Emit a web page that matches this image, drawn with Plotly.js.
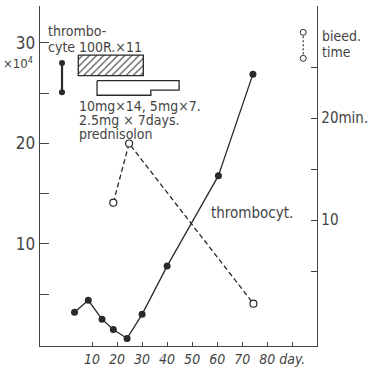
<!DOCTYPE html>
<html>
<head>
<meta charset="utf-8">
<script src="https://cdn.plot.ly/plotly-3.0.1.min.js"></script>
<style>html,body{margin:0;padding:0;background:#fff;}#chart{width:372px;height:370px;}</style>
</head>
<body>
<div id="chart"></div>
<script>
// ---- data ----
const thromboDays = [3, 8.5, 14, 18.5, 24, 30, 40, 60.5, 74.3];
const thromboValues = [3.2, 4.4, 2.5, 1.5, 0.6, 3.0, 7.8, 16.8, 26.9]; // ×10^4
const preTreatDays = [-2, -2];
const preTreatValues = [28.0, 25.1];
const bleedDays = [18.5, 24.8, 74.5];
const bleedMinutes = [11.7, 17.5, 1.8];
const radiationDays = [4.5, 30.5];          // 100R × 11
const prednisoloneDays = [12, 33.5, 44.8];   // 10mg/5mg -> 2.5mg step
const xTickVals = [10, 20, 30, 40, 50, 60, 70, 80, 90];
const xTickText = ['10', '20', '30', '40', '50', '60', '70', '80', 'day.'];
const yTickVals = [5, 10, 15, 20, 25, 30];
const yTickText = ['', '10', '', '20', '', '30'];
const y2TickVals = [5, 10, 15, 20, 25];
const y2TickText = ['', '10', '', '20min.', ''];

// ---- styling / layout ----
const FONT = 'DejaVu Sans Condensed, DejaVu Sans, sans-serif';
const TXT = '#444';
const INK = '#2a2a2a';
const L = 40, R = 316.7, T = 6, B = 346;
const xp = px => (px - L) / (R - L);
const yp = py => (B - py) / (B - T);

// vertical placement of treatment bars (left-axis units)
const radTop = 28.8, radBot = 26.75;
const predTop = 26.25, predBot1 = 24.8, predBot2 = 25.3;

const traces = [
  { // radiation hatched bar
    x: [radiationDays[0], radiationDays[1], radiationDays[1], radiationDays[0], radiationDays[0]],
    y: [radTop, radTop, radBot, radBot, radTop],
    mode: 'lines', fill: 'toself', fillcolor: 'white',
    fillpattern: { shape: '/', fgcolor: '#555', bgcolor: 'white', size: 5, solidity: 0.25 },
    line: { color: INK, width: 1.3 }, hoverinfo: 'skip'
  },
  { // prednisolone stepped outline
    x: [prednisoloneDays[0], prednisoloneDays[2], prednisoloneDays[2], prednisoloneDays[1], prednisoloneDays[1], prednisoloneDays[0], prednisoloneDays[0]],
    y: [predTop, predTop, predBot2, predBot2, predBot1, predBot1, predTop],
    mode: 'lines', fill: 'toself', fillcolor: 'white',
    line: { color: INK, width: 1.3 }, hoverinfo: 'skip'
  },
  { // pre-treatment thrombocyte
    x: preTreatDays, y: preTreatValues, mode: 'lines+markers',
    line: { color: INK, width: 2.2 },
    marker: { color: INK, size: 6 }
  },
  { // thrombocyte
    x: thromboDays, y: thromboValues, mode: 'lines+markers',
    line: { color: INK, width: 1.3 },
    marker: { color: INK, size: 7 }
  },
  { // bleeding time
    x: bleedDays, y: bleedMinutes, yaxis: 'y2', mode: 'lines+markers',
    line: { color: INK, width: 1.3, dash: '5px,3px' },
    marker: { color: 'white', size: 7, line: { color: INK, width: 1.2 } }
  },
  { // legend key for bleeding time
    x: [94.4, 94.4], y: [28.4, 25.85], yaxis: 'y2', mode: 'lines+markers',
    line: { color: INK, width: 1.1, dash: '2px,2px' },
    marker: { color: 'white', size: 6, line: { color: INK, width: 1 } },
    cliponaxis: false
  }
];

function ann(text, px, py, anchor, size) {
  return { text: text, x: xp(px), y: yp(py), xref: 'paper', yref: 'paper',
    xanchor: anchor || 'left', yanchor: 'middle', showarrow: false,
    font: { family: FONT, size: size || 14, color: TXT } };
}

const layout = {
  width: 372, height: 370,
  margin: { l: L, r: 372 - R, t: T, b: 370 - B, pad: 0 },
  paper_bgcolor: 'white', plot_bgcolor: 'white',
  showlegend: false,
  xaxis: {
    range: [-10.8, 99.9], showgrid: false, zeroline: false,
    showline: true, linecolor: '#444', linewidth: 1.3,
    ticks: 'inside', ticklen: 4, tickcolor: '#444', tickwidth: 1,
    tickvals: xTickVals, ticktext: xTickText, tickangle: 0,
    tickfont: { family: FONT, size: 14, color: TXT, style: 'italic' }
  },
  yaxis: {
    range: [-0.15, 33.68], showgrid: false, zeroline: false,
    showline: true, linecolor: '#444', linewidth: 1.3,
    ticks: 'inside', ticklen: 9, tickcolor: '#444', tickwidth: 1,
    tickvals: yTickVals, ticktext: yTickText,
    tickfont: { family: FONT, size: 17, color: TXT }
  },
  yaxis2: {
    overlaying: 'y', side: 'right',
    range: [-2.35, 30.98], showgrid: false, zeroline: false,
    showline: true, linecolor: '#444', linewidth: 1.3,
    ticks: 'inside', ticklen: 6, tickcolor: '#444', tickwidth: 1,
    tickvals: y2TickVals, ticktext: y2TickText,
    tickfont: { family: FONT, size: 15, color: TXT }
  },
  annotations: [
    ann('thrombo-', 46, 31),
    ann('cyte 100R.×11', 46, 47),
    ann('×10<sup>4</sup>', 35, 63, 'right', 13),
    ann('10mg×14, 5mg×7.', 77, 106),
    ann('2.5mg × 7days.', 77, 120),
    ann('prednisolon', 77, 134),
    ann('thrombocyt.', 209, 213, 'left', 15),
    ann('bieed.', 320, 36),
    ann('time', 320, 52)
  ]
};

Plotly.newPlot('chart', traces, layout, { staticPlot: true, displayModeBar: false });
</script>
</body>
</html>
